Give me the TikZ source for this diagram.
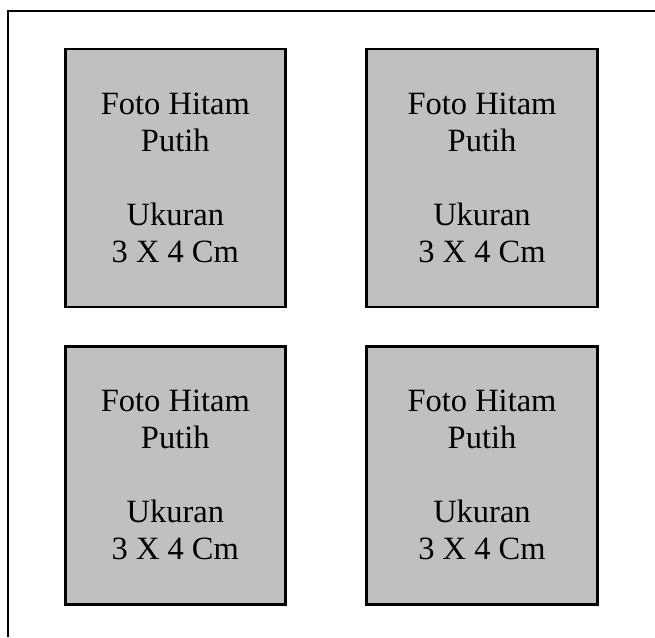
\documentclass[tikz,border=0pt]{standalone}
\usepackage{fontspec}
\setmainfont{Liberation Serif}
\definecolor{photogray}{RGB}{192,192,192}
\tikzset{
  photo/.style={draw=black, line width=2.4pt, fill=photogray, rectangle,
    minimum height=258pt, inner sep=0pt, align=center,
    font=\fontsize{32.5}{37}\selectfont},
  narrow/.style={photo, minimum width=220pt},
  wide/.style={photo, minimum width=231pt},
  frame/.style={draw=black, line width=2.4pt}
}
\begin{document}
\begin{tikzpicture}[x=1pt,y=-1pt]
\useasboundingbox (0,0) rectangle (655,637);
\path[frame] (8,637) -- (8,11) -- (655,11);
\node[narrow] (p1) at (175.3,178.2) {Foto Hitam\\Putih\\\mbox{}\\Ukuran\\3 X 4 Cm};
\node[wide] (p2) at (482,178.2) {Foto Hitam\\Putih\\\mbox{}\\Ukuran\\3 X 4 Cm};
\node[narrow] (p3) at (175.3,475.3) {Foto Hitam\\Putih\\\mbox{}\\Ukuran\\3 X 4 Cm};
\node[wide] (p4) at (482,475.3) {Foto Hitam\\Putih\\\mbox{}\\Ukuran\\3 X 4 Cm};
\end{tikzpicture}
\end{document}
